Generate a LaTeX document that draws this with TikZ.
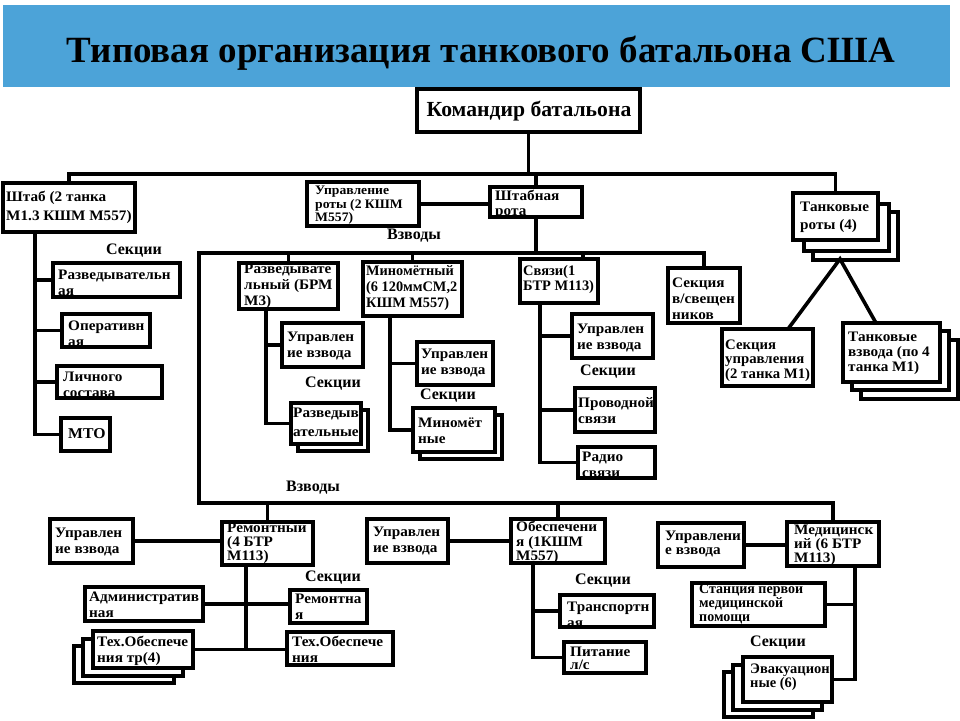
\documentclass[tikz,border=0pt]{standalone}
\usepackage{fontspec}
\setmainfont{Liberation Serif}[BoldFont={Liberation Serif Bold}]
\usetikzlibrary{fit}
\definecolor{titleblue}{RGB}{76,163,216}
\newcommand\mybox[9]{%
  \node[box, fit={(#2,#3) (#4,#5)}] (#1) {};
  \node[txt, #8] (#1-t) at (#6,#7) {#9};}
\newcommand\backbox[5]{\node[box, fit={(#2,#3) (#4,#5)}] (#1) {};}
\begin{document}
\begin{tikzpicture}[x=1pt,y=-1pt,
  box/.style={draw=black, line width=3.6pt, fill=white, inner sep=0pt, outer sep=0pt},
  txt/.style={font=\bfseries\fontsize{14.5}{16}\selectfont, align=left, anchor=west, inner sep=0pt, xscale=1.05},
  lbl/.style={font=\bfseries\fontsize{16}{17}\selectfont, inner sep=0pt},
  conn/.style={line width=3.6pt, line join=miter},
  lead/.style={font=\bfseries\fontsize{14.5}{#1}\selectfont}]
\useasboundingbox (0,0) rectangle (960,720);
\fill[white] (0,0) rectangle (960,720);
% title
\node[fill=titleblue, inner sep=0pt, fit={(3,5) (950,87)}] (bar) {};
\node[font=\bfseries\fontsize{37}{40}\selectfont, inner sep=0pt, anchor=base] (title) at (481,62) {Типовая организация танкового батальона США};
% top level
\mybox{cmd}{417}{89}{640}{132}{529}{111}{anchor=center, xscale=0.96, font=\bfseries\fontsize{21.5}{23}\selectfont}{Командир батальона}
\mybox{shtab}{3}{183}{135}{232}{6}{207.5}{lead=19}{Штаб (2 танка\\M1.3 КШМ M557)}
\mybox{ur}{307}{182}{419}{226}{315}{205.5}{font=\bfseries\fontsize{13}{13.5}\selectfont}{Управление\\роты (2 КШМ\\M557)}
\mybox{shr}{490}{187}{582}{217}{495}{204.5}{lead=15}{Штабная\\ рота}
\backbox{tanks-b2}{813}{212}{898}{260}
\backbox{tanks-b1}{804}{204}{889}{251}
\mybox{tanks}{793}{193}{878}{240}{800}{217.5}{lead=18}{Танковые\\роты (4)}
% left sections
\mybox{rz}{53}{263}{180}{297}{58}{283}{}{Разведывательн\\ая}
\mybox{op}{62}{314}{150}{347}{68}{333.5}{}{Оперативн\\ая}
\mybox{ls}{57}{366}{162}{398}{63}{384.5}{}{Личного\\состава}
\mybox{mto}{61}{418}{110}{451}{68}{434}{font=\bfseries\fontsize{15}{16}\selectfont}{МТО}
% platoons of HQ company
\mybox{razv}{239}{263}{338}{309}{244}{286.5}{}{Разведывате\\льный (БРМ\\M3)}
\mybox{ru}{282}{323}{363}{367}{287}{346}{}{Управлен\\ие взвода}
\backbox{rzs-b1}{298}{410}{368}{451}
\mybox{rzs}{291}{403}{361}{444}{293}{422.5}{lead=19}{Разведыв\\ательные}
\mybox{min}{363}{262}{462}{316}{366}{288.5}{xscale=0.94}{Миномётный\\(6 120ммСМ,2\\КШМ M557)}
\mybox{mu}{417}{342}{493}{385}{421}{363}{}{Управлен\\ие взвода}
\backbox{mins-b1}{420}{415}{502}{459}
\mybox{mins}{413}{408}{495}{452}{418}{430.5}{}{Миномёт\\ные}
\mybox{svz}{520}{259}{598}{303}{523}{279.5}{lead=15, xscale=0.95}{Связи(1\\БТР M113)}
\mybox{su}{572}{314}{653}{358}{577}{338}{}{Управлен\\ие взвода}
\mybox{pr}{575}{388}{655}{432}{578}{410.5}{}{Проводной\\связи}
\mybox{rad}{578}{447}{655}{478}{582}{464.5}{}{Радио\\связи}
\mybox{svsh}{668}{268}{740}{323}{672}{298.5}{}{Секция\\в/свещен\\ников}
% tank companies
\mybox{scu}{722}{329}{813}{386}{725}{360.5}{lead=14.5, xscale=0.97}{Секция\\управления\\(2 танка M1)}
\backbox{tv-b2}{861}{340}{958}{399}
\backbox{tv-b1}{852}{331}{949}{390}
\mybox{tv}{843}{323}{940}{382}{848}{353.5}{lead=15}{Танковые\\взвода (по 4\\танка M1)}
% bottom platoons
\mybox{lu}{50}{519}{133}{563}{55}{542.5}{}{Управлен\\ие взвода}
\mybox{rem}{222}{522}{313}{565}{227}{543}{lead=14}{Ремонтный\\(4 БТР\\M113)}
\mybox{adm}{85}{587}{203}{621}{89}{605}{}{Административ\\ная}
\mybox{remn}{290}{590}{367}{623}{295}{607}{}{Ремонтна\\я}
\backbox{tex-b2}{74}{646}{174}{683}
\backbox{tex-b1}{83}{639}{183}{676}
\mybox{tex}{93}{631}{193}{668}{97}{651}{}{Тех.Обеспече\\ния тр(4)}
\mybox{tex2}{287}{632}{393}{665}{292}{649}{}{Тех.Обеспече\\ния}
\mybox{mu2}{367}{519}{448}{563}{373}{541.5}{}{Управлен\\ие взвода}
\mybox{obs}{511}{519}{605}{563}{516}{542.5}{lead=14.5}{Обеспечени\\я (1КШМ\\M557)}
\mybox{trn}{560}{595}{654}{627}{567}{614.5}{}{Транспортн\\ая}
\mybox{pit}{564}{642}{646}{673}{570}{658.5}{lead=13}{Питание\\л/с}
\mybox{mu3}{658}{523}{744}{567}{665}{544}{lead=14}{Управлени\\е взвода}
\mybox{med}{787}{522}{879}{566}{794}{545}{lead=14}{Медицинск\\ий (6 БТР\\ M113)}
\mybox{st}{692}{583}{825}{626}{699}{604}{lead=14, xscale=0.92}{Станция первой\\медицинской\\помощи}
\backbox{ev-b2}{724}{672}{813}{717}
\backbox{ev-b1}{733}{665}{822}{710}
\mybox{ev}{743}{657}{832}{702}{750}{677.5}{lead=13, xscale=0.95}{Эвакуацион\\ные (6)}
% labels
\node[lbl] (l1) at (134,251) {Секции};
\node[lbl] (l2) at (414,236) {Взводы};
\node[lbl] (l3) at (333,384) {Секции};
\node[lbl] (l4) at (448,396) {Секции};
\node[lbl] (l5) at (608,372) {Секции};
\node[lbl] (l6) at (313,488) {Взводы};
\node[lbl] (l7) at (333,578) {Секции};
\node[lbl] (l8) at (603,581) {Секции};
\node[lbl] (l9) at (778,643) {Секции};
% coordinates
\coordinate (top) at (529,174);
\coordinate (vz) at (199,253);
\coordinate (vzb) at (199,503);
\coordinate (svzc) at (583,253);
\coordinate (lv) at (35,0);
\coordinate (rv) at (266,0);
\coordinate (mv) at (390,0);
\coordinate (sv) at (540,0);
\coordinate (remv) at (246,0);
\coordinate (ov) at (533,0);
\coordinate (mdv) at (855,0);
\coordinate (apex) at (840,259);
\coordinate (a1) at (788,329);
\coordinate (a2) at (876,323);
% connectors
\draw[conn] (shtab.north) |- (top -| tanks.north) -- (tanks.north);
\draw[conn] (cmd.south) -- (cmd.south |- top);
\draw[conn] (shr.north) -- (shr.north |- top);
\draw[conn] (ur.east) -- (ur.east -| shr.west);
\draw[conn] (svsh.north) |- (vz) -- (vzb) -| (med.north);
\draw[conn] (shr.south) -- (shr.south |- vz);
\draw[conn] (razv.north) -- (razv.north |- vz);
\draw[conn] (min.north) -- (min.north |- vz);
\draw[conn] (svzc) -- (svzc |- svz.north);
\draw[conn] (rem.north) -- (rem.north |- vzb);
\draw[conn] (obs.north) -- (obs.north |- vzb);
\draw[conn] (a1) -- (apex) -- (a2);
% left
\draw[conn] (shtab.south -| lv) |- (mto.west);
\draw[conn] (lv |- rz.west) -- (rz.west);
\draw[conn] (lv |- op.west) -- (op.west);
\draw[conn] (lv |- ls.west) -- (ls.west);
% razv
\draw[conn] (razv.south -| rv) |- (rzs.west);
\draw[conn] (rv |- ru.west) -- (ru.west);
% min
\draw[conn] (min.south -| mv) |- (mins.west);
\draw[conn] (mv |- mu.west) -- (mu.west);
% svz
\draw[conn] (svz.south -| sv) |- (rad.west);
\draw[conn] (sv |- su.west) -- (su.west);
\draw[conn] (sv |- pr.west) -- (pr.west);
% rem
\draw[conn] (lu.east) -- (lu.east -| rem.west);
\draw[conn] (rem.south -| remv) -- (remv |- tex.east);
\draw[conn] (adm.east) -- (adm.east -| remn.west);
\draw[conn] (tex.east) -- (tex.east -| tex2.west);
% obs
\draw[conn] (mu2.east) -- (mu2.east -| obs.west);
\draw[conn] (obs.south -| ov) |- (pit.west);
\draw[conn] (ov |- trn.west) -- (trn.west);
% med
\draw[conn] (mu3.east) -- (mu3.east -| med.west);
\draw[conn] (med.south -| mdv) |- (ev.east);
\draw[conn] (mdv |- st.east) -- (st.east);
\end{tikzpicture}
\end{document}
